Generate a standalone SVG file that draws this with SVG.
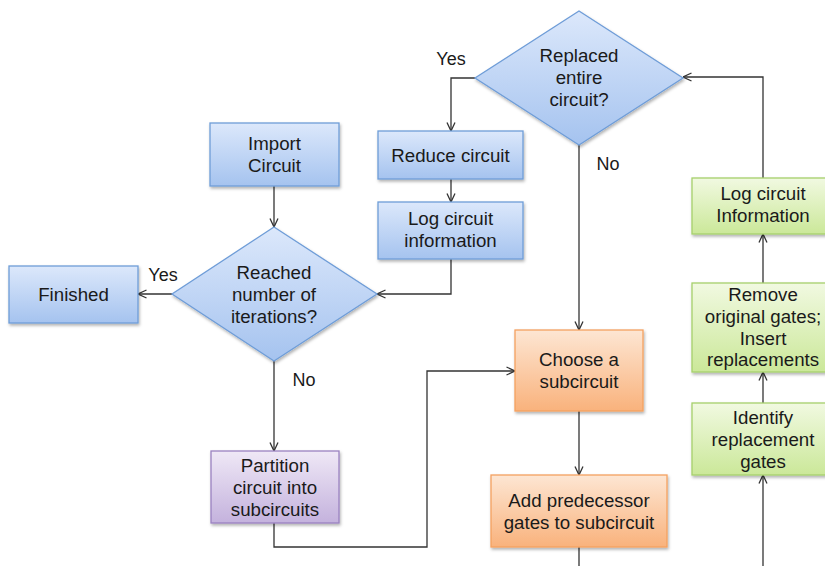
<svg xmlns="http://www.w3.org/2000/svg" width="825" height="566" viewBox="0 0 825 566">
<defs>
<linearGradient id="gBlue" x1="0" y1="0" x2="0" y2="1"><stop offset="0" stop-color="#dce8fb"/><stop offset="1" stop-color="#a5c3ef"/></linearGradient>
<linearGradient id="gOrange" x1="0" y1="0" x2="0" y2="1"><stop offset="0" stop-color="#fde6d3"/><stop offset="1" stop-color="#f9b27c"/></linearGradient>
<linearGradient id="gGreen" x1="0" y1="0" x2="0" y2="1"><stop offset="0" stop-color="#f1f9e1"/><stop offset="1" stop-color="#cbe899"/></linearGradient>
<linearGradient id="gPurple" x1="0" y1="0" x2="0" y2="1"><stop offset="0" stop-color="#efe8f6"/><stop offset="1" stop-color="#c4b2dd"/></linearGradient>
<filter id="sh" x="-10%" y="-10%" width="130%" height="140%"><feDropShadow dx="1" dy="2" stdDeviation="1.5" flood-color="#000" flood-opacity="0.3"/></filter>
<marker id="arr" viewBox="0 0 10 10" refX="9.5" refY="5" markerWidth="10" markerHeight="10" markerUnits="userSpaceOnUse" orient="auto"><path d="M1,1 L9.5,5 L1,9" fill="none" stroke="#333" stroke-width="1.3"/></marker>
</defs>
<style>
.blue{fill:url(#gBlue);stroke:#6f9dd8;stroke-width:1.3;filter:url(#sh)}
.orange{fill:url(#gOrange);stroke:#f5a160;stroke-width:1.3;filter:url(#sh)}
.green{fill:url(#gGreen);stroke:#a6d06c;stroke-width:1.3;filter:url(#sh)}
.purple{fill:url(#gPurple);stroke:#9a82c0;stroke-width:1.3;filter:url(#sh)}
text{font-family:"Liberation Sans",Arial,sans-serif;font-size:18.7px;fill:#1a1a1a;text-anchor:middle}
.lbl{font-size:18px}
.c{fill:none;stroke:#333;stroke-width:1.3;marker-end:url(#arr)}
</style>
<rect width="825" height="566" fill="#fff"/>
<g id="connectors">
<path class="c" d="M274,186 L274,227"/>
<path class="c" d="M172,294 L138,294"/>
<path class="c" d="M274,361 L274,451"/>
<path class="c" d="M274,523 L274,547 L427,547 L427,371 L515,371"/>
<path class="c" d="M475,78 L451,78 L451,131"/>
<path class="c" d="M451,179 L451,202"/>
<path class="c" d="M451,259 L451,294 L377,294"/>
<path class="c" d="M579,145 L579,330"/>
<path class="c" d="M579,411 L579,475"/>
<path fill="none" stroke="#333" stroke-width="1.3" d="M579,547 L579,566"/>
<path class="c" d="M763,566 L763,475"/>
<path class="c" d="M763,403 L763,372"/>
<path class="c" d="M763,283 L763,234"/>
<path class="c" d="M763,178 L763,77 L683,77"/>
<text class="lbl" x="163" y="281">Yes</text>
<text class="lbl" x="304" y="386">No</text>
<text class="lbl" x="451" y="65">Yes</text>
<text class="lbl" x="608" y="170">No</text>
</g>
<g id="import">
<rect class="blue" x="210" y="123" width="129" height="63"/>
<text x="274.5" y="150">Import</text><text x="274.5" y="172">Circuit</text>
</g>
<g id="reached">
<polygon class="blue" points="274,227 377,294 274,361 172,294"/>
<text x="274" y="279">Reached</text><text x="274" y="301">number of</text><text x="274" y="323">iterations?</text>
</g>
<g id="finished">
<rect class="blue" x="9" y="266" width="129" height="57"/>
<text x="73.5" y="301">Finished</text>
</g>
<g id="partition">
<rect class="purple" x="211" y="451" width="128" height="72"/>
<text x="275" y="472">Partition</text><text x="275" y="494">circuit into</text><text x="275" y="516">subcircuits</text>
</g>
<g id="replaced">
<polygon class="blue" points="579,11 683,78 579,145 475,78"/>
<text x="579" y="62">Replaced</text><text x="579" y="84">entire</text><text x="579" y="106">circuit?</text>
</g>
<g id="reduce">
<rect class="blue" x="378" y="131" width="145" height="48"/>
<text x="450.5" y="161.5">Reduce circuit</text>
</g>
<g id="logblue">
<rect class="blue" x="378" y="202" width="145" height="57"/>
<text x="450.5" y="225">Log circuit</text><text x="450.5" y="247">information</text>
</g>
<g id="choose">
<rect class="orange" x="515" y="330" width="128" height="81"/>
<text x="579" y="366">Choose a</text><text x="579" y="388">subcircuit</text>
</g>
<g id="addpred">
<rect class="orange" x="491" y="475" width="176" height="72"/>
<text x="579" y="507">Add predecessor</text><text x="579" y="529">gates to subcircuit</text>
</g>
<g id="identify">
<rect class="green" x="692" y="403" width="142" height="72"/>
<text x="763" y="424">Identify</text><text x="763" y="446">replacement</text><text x="763" y="468">gates</text>
</g>
<g id="remove">
<rect class="green" x="692" y="283" width="142" height="89"/>
<text x="763" y="301">Remove</text><text x="763" y="323">original gates;</text><text x="763" y="344.5">Insert</text><text x="763" y="366">replacements</text>
</g>
<g id="loggreen">
<rect class="green" x="692" y="178" width="142" height="56"/>
<text x="763" y="200">Log circuit</text><text x="763" y="222">Information</text>
</g>
</svg>
